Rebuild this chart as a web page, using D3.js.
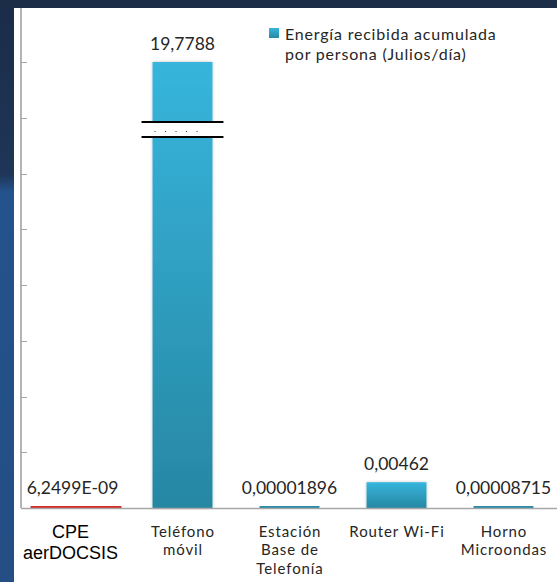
<!DOCTYPE html>
<html><head><meta charset="utf-8">
<script src="https://cdn.jsdelivr.net/npm/d3@7"></script>
<style>html,body{margin:0;padding:0;background:#1f3f6a;}svg{display:block;}</style>
</head><body>
<script>
const categories = [["CPE","aerDOCSIS"],["Teléfono","móvil"],["Estación","Base de","Telefonía"],["Router Wi-Fi"],["Horno","Microondas"]];
const values = [6.2499e-9, 19.7788, 0.00001896, 0.00462, 0.00008715];
const valueLabels = ["6,2499E-09","19,7788","0,00001896","0,00462","0,00008715"];
const seriesName = ["Energía recibida acumulada","por persona (Julios/día)"];
const tickCount = 8;

const W = 557, H = 582;
const svg = d3.select("body").append("svg").attr("width", W).attr("height", H);
const defs = svg.append("defs");

// background
const bg = defs.append("linearGradient").attr("id","bgLeft").attr("x1",0).attr("y1",0).attr("x2",0).attr("y2",1);
bg.append("stop").attr("offset","0%").attr("stop-color","#1a2c48");
bg.append("stop").attr("offset","30%").attr("stop-color","#1f3658");
bg.append("stop").attr("offset","33%").attr("stop-color","#24528c");
bg.append("stop").attr("offset","100%").attr("stop-color","#244e84");
svg.append("rect").attr("width",W).attr("height",H).attr("fill","url(#bgLeft)");
svg.append("rect").attr("x",0).attr("y",0).attr("width",W).attr("height",8).attr("fill","#1b2d47");
svg.append("rect").attr("x",14).attr("y",8).attr("width",W-14).attr("height",H-8).attr("fill","#ffffff");

const barGrad = defs.append("linearGradient").attr("id","barGrad").attr("x1",0).attr("y1",0).attr("x2",0).attr("y2",1);
barGrad.append("stop").attr("offset","0%").attr("stop-color","#37b5dc");
barGrad.append("stop").attr("offset","100%").attr("stop-color","#2787a3");
const f = defs.append("filter").attr("id","sh").attr("x","-20%").attr("y","-5%").attr("width","140%").attr("height","110%");
f.append("feDropShadow").attr("dx",0).attr("dy",0).attr("stdDeviation",1.5).attr("flood-color","#000").attr("flood-opacity",0.25);

const plot = {left:21, right:557, top:62, bottom:508};
const x = d3.scaleBand().domain(d3.range(categories.length)).range([22, 557]).paddingInner(0.44).paddingOuter(0.22);
// broken value axis: first tick interval holds 0..0.01, the rest compressed up to the max
const y = d3.scaleLinear()
  .domain([0, 0.01, d3.max(values)])
  .range([plot.bottom, plot.bottom - (plot.bottom-plot.top)/tickCount, plot.top]);
const tickScale = d3.scaleLinear().domain([0, tickCount]).range([plot.bottom, plot.top]);

const g = svg.append("g");
// y axis
g.append("line").attr("x1",plot.left).attr("x2",plot.left).attr("y1",8).attr("y2",plot.bottom)
  .attr("stroke","#b4b4b4").attr("stroke-width",2);
g.selectAll(".tk").data(d3.range(1, tickCount+1)).join("line")
  .attr("x1",plot.left).attr("x2",plot.left+6)
  .attr("y1",d=>Math.round(tickScale(d))+0.5).attr("y2",d=>Math.round(tickScale(d))+0.5)
  .attr("stroke","#a6a6a6").attr("stroke-width",1);

// bars
const bars = g.selectAll(".bar").data(values).join("rect")
  .attr("x",(d,i)=>x(i)).attr("width",x.bandwidth())
  .attr("y",d=>Math.min(y(d), plot.bottom-2))
  .attr("height",d=>Math.max(plot.bottom - y(d), 2))
  .attr("fill",(d,i)=> (plot.bottom - y(d)) < 3 ? "#2a8aa8" : "url(#barGrad)")
  .attr("filter",d=> (plot.bottom - y(d)) < 3 ? null : "url(#sh)");
// first category marked with a wider red line
bars.filter((d,i)=>i===0).attr("fill","#d42a2a").attr("x",x(0)-15).attr("width",x.bandwidth()+31);

// baseline
g.append("line").attr("x1",plot.left).attr("x2",W).attr("y1",plot.bottom+0.5).attr("y2",plot.bottom+0.5)
  .attr("stroke","#a6a6a6").attr("stroke-width",1.5);

// axis break on the tallest bar
const iMax = values.indexOf(d3.max(values));
const bx = x(iMax) - 11, bw = x.bandwidth() + 22;
const brk = g.append("g");
brk.append("rect").attr("x",bx).attr("y",122).attr("width",bw).attr("height",15).attr("fill","#fff");
[122,137].forEach(yy=>brk.append("line").attr("x1",bx).attr("x2",bx+bw).attr("y1",yy).attr("y2",yy).attr("stroke","#000").attr("stroke-width",2));
brk.selectAll("circle").data(d3.range(5)).join("rect")
  .attr("x",d=>x(iMax)+2+d*10.5).attr("y",131).attr("width",1).attr("height",1).attr("fill","#333");

// value labels
g.selectAll(".vl").data(values).join("text")
  .attr("x",(d,i)=>x(i)+x.bandwidth()/2 + (i===0? -3:0))
  .attr("y",d=>Math.min(y(d), plot.bottom-2) - 12)
  .attr("text-anchor","middle").attr("font-family","Lato, 'Open Sans', sans-serif").attr("font-size",17.5)
  .attr("fill","#262626").text((d,i)=>valueLabels[i]);

// category labels (one text per line)
const lines = [];
categories.forEach((d,i)=>d.forEach((line,k)=>lines.push({i,k,line})));
g.selectAll(".cl").data(lines).join("text")
  .attr("text-anchor","middle")
  .attr("x", d=> x(d.i)+x.bandwidth()/2 + (d.i===0? -5:0.5))
  .attr("y", d=> d.i===0 ? 538 + d.k*21 : 537 + d.k*18.3)
  .attr("font-family",d=> d.i===0 ? "'Liberation Sans', Arial, sans-serif" : "Lato, sans-serif")
  .attr("font-size",d=> d.i===0 ? 18 : 15)
  .attr("letter-spacing",d=> d.i===0 ? null : "0.9px")
  .attr("fill",d=> d.i===0 ? "#000" : "#262626")
  .text(d=>d.line);

// legend
const lg = g.append("g");
lg.append("rect").attr("x",269).attr("y",28).attr("width",10).attr("height",10).attr("fill","url(#barGrad)");
lg.selectAll("text").data(seriesName).join("text")
  .attr("x",285).attr("y",(d,i)=>40+i*19.5)
  .attr("font-family","Lato, sans-serif").attr("font-size",16).attr("letter-spacing","0.8px")
  .attr("fill","#262626").text(d=>d);
</script>
</body></html>
